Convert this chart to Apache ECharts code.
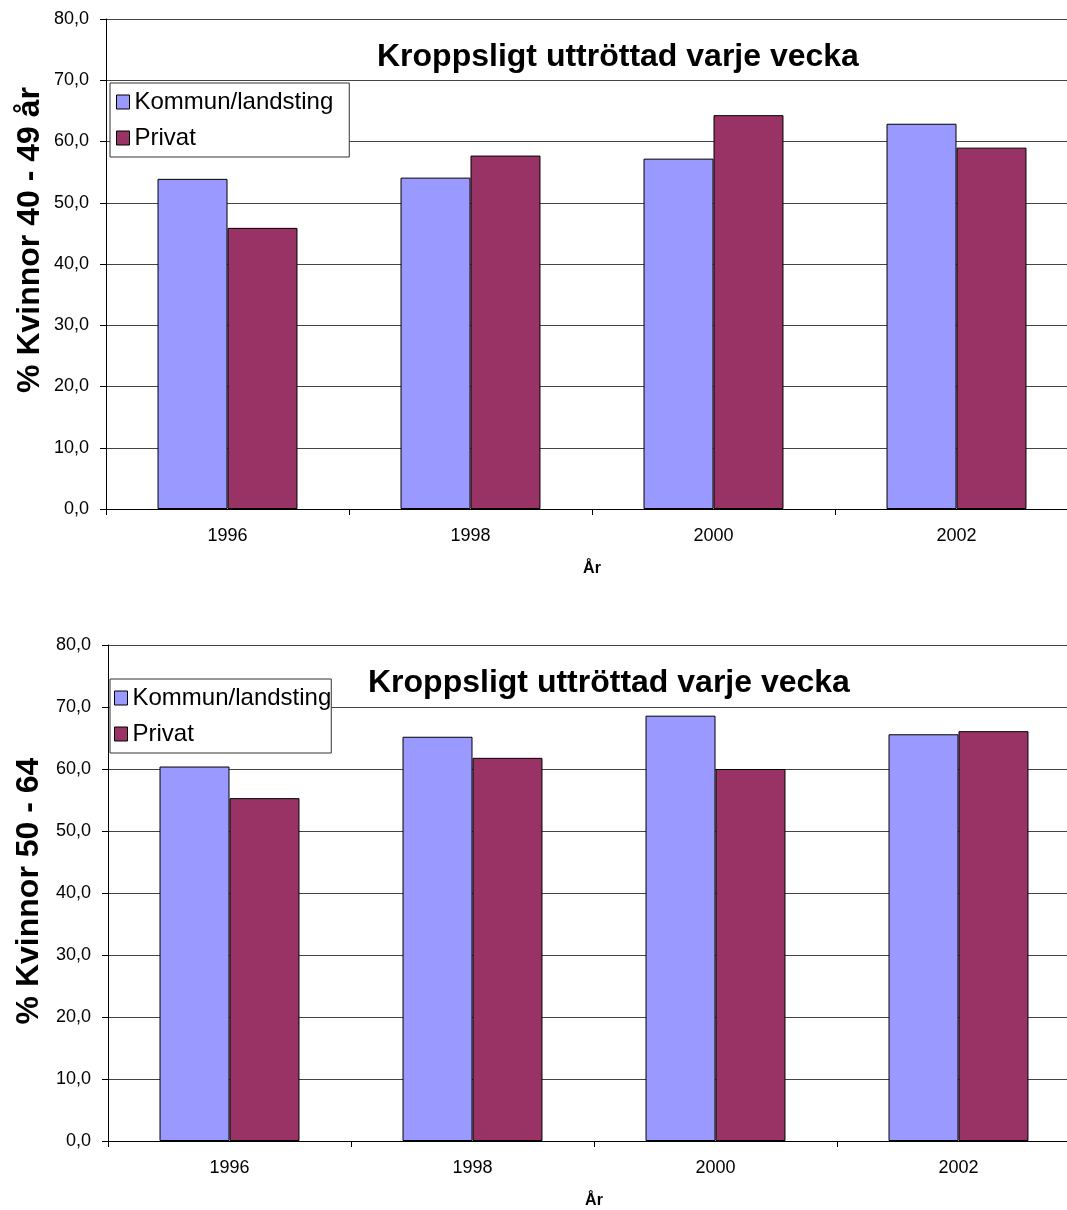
<!DOCTYPE html>
<html>
<head>
<meta charset="utf-8">
<title>Kroppsligt uttröttad varje vecka</title>
<script src="https://cdn.jsdelivr.net/npm/echarts@6/dist/echarts.min.js"></script>
<style>
  html, body { margin: 0; padding: 0; background: #fff; overflow: hidden; }
  /* the plot areas run a little past the right edge of the window */
  #chart { width: 1084px; height: 1210px; }
</style>
</head>
<body>
<div id="chart"></div>
<script>
// Survey years on the category axis
const years = ['1996', '1998', '2000', '2002'];
const seriesNames = ['Kommun/landsting', 'Privat'];

// Women 40–49: share physically exhausted every week (%)
const kommun4049 = [53.9, 54.1, 57.2, 62.9];
const privat4049 = [45.9, 57.7, 64.3, 59.0];

// Women 50–64: share physically exhausted every week (%)
const kommun5064 = [60.4, 65.2, 68.6, 65.6];
const privat5064 = [55.3, 61.8, 60.0, 66.1];

const chartTitle = 'Kroppsligt uttröttad varje vecka';
const yNameTop = '% Kvinnor 40 - 49 år';
const yNameBottom = '% Kvinnor 50 - 64';
const xName = 'År';

const FONT = '"Liberation Sans", Arial, sans-serif';
const colKommun = '#9999FF';
const colPrivat = '#993366';

const chart = echarts.init(document.getElementById('chart'), null, { renderer: 'canvas' });

function xAxisFor(gridIndex) {
  return {
    type: 'category',
    gridIndex: gridIndex,
    data: years,
    name: xName,
    nameLocation: 'middle',
    nameGap: 52,
    nameTextStyle: { fontFamily: FONT, fontSize: 16, fontWeight: 'bold', color: '#000' },
    axisLine: { lineStyle: { color: '#000', width: 1 } },
    axisTick: { show: true, alignWithLabel: false, length: 6, lineStyle: { color: '#000' } },
    axisLabel: { fontFamily: FONT, fontSize: 18, color: '#000', margin: 18 },
    splitLine: { show: false }
  };
}

function yAxisFor(gridIndex) {
  return {
    type: 'value',
    gridIndex: gridIndex,
    min: 0,
    max: 80,
    interval: 10,
    axisLine: { show: true, lineStyle: { color: '#000', width: 1 } },
    axisTick: { show: true, length: 6, lineStyle: { color: '#000' } },
    axisLabel: {
      fontFamily: FONT, fontSize: 18, color: '#000', margin: 17,
      formatter: v => v.toFixed(1).replace('.', ',')
    },
    splitLine: { show: true, lineStyle: { color: '#444', width: 1 } }
  };
}

function barSeries(name, data, color, idx) {
  return {
    type: 'bar',
    name: name,
    data: data,
    xAxisIndex: idx,
    yAxisIndex: idx,
    barGap: '0%',
    barCategoryGap: '42.4%',
    itemStyle: { color: color, borderColor: '#000', borderWidth: 1 },
    emphasis: { disabled: true },
    animation: false
  };
}

function legendFor(left, top, padding) {
  return {
    orient: 'vertical',
    left: left,
    top: top,
    data: seriesNames,
    icon: 'rect',
    itemWidth: 13,
    itemHeight: 14,
    itemGap: 12,
    padding: padding,
    backgroundColor: '#fff',
    borderColor: '#333',
    borderWidth: 1,
    borderRadius: 0,
    selectedMode: false,
    itemStyle: { borderColor: '#000', borderWidth: 1 },
    textStyle: { fontFamily: FONT, fontSize: 24, color: '#000', lineHeight: 23, padding: [0, 0, 0, 0] }
  };
}

const option = {
  backgroundColor: '#fff',
  animation: false,
  textStyle: { fontFamily: FONT },
  title: [
    { text: chartTitle, left: 377, top: 41, padding: 0,
      textStyle: { fontFamily: FONT, fontSize: 32, fontWeight: 'bold', color: '#000' } },
    { text: chartTitle, left: 368, top: 667, padding: 0,
      textStyle: { fontFamily: FONT, fontSize: 32, fontWeight: 'bold', color: '#000' } }
  ],
  legend: [
    legendFor(110, 83, [7, 16, 7, 6]),
    legendFor(110, 679, [7, 0, 7, 4])
  ],
  grid: [
    { left: 106, top: 19, width: 972, height: 490 },
    { left: 108, top: 645, width: 972, height: 502 }
  ],
  xAxis: [xAxisFor(0), xAxisFor(1)],
  yAxis: [yAxisFor(0), yAxisFor(1)],
  series: [
    barSeries(seriesNames[0], kommun4049, colKommun, 0),
    barSeries(seriesNames[1], privat4049, colPrivat, 0),
    barSeries(seriesNames[0], kommun5064, colKommun, 1),
    barSeries(seriesNames[1], privat5064, colPrivat, 1)
  ],
  graphic: [
    { type: 'text', x: 30, y: 240, rotation: Math.PI / 2,
      style: { text: yNameTop, font: 'bold 32px ' + FONT, fill: '#000',
               textAlign: 'center', textVerticalAlign: 'middle', align: 'center', verticalAlign: 'middle' } },
    { type: 'text', x: 29, y: 891, rotation: Math.PI / 2,
      style: { text: yNameBottom, font: 'bold 32px ' + FONT, fill: '#000',
               textAlign: 'center', textVerticalAlign: 'middle', align: 'center', verticalAlign: 'middle' } }
  ]
};

chart.setOption(option);
</script>
</body>
</html>
